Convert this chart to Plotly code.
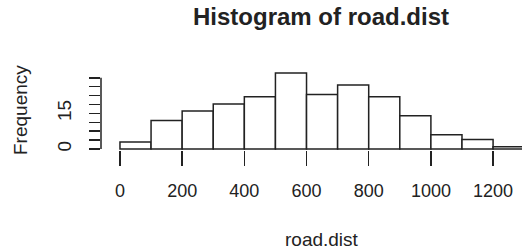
import plotly.graph_objects as go

# Histogram of road.dist — bins of width 100 from 0 to 1300
bin_left = [0, 100, 200, 300, 400, 500, 600, 700, 800, 900, 1000, 1100, 1200]
counts = [3, 12, 16, 19, 22, 32, 23, 27, 22, 14, 6, 4, 1]
bin_width = 100

x_tickvals = [0, 200, 400, 600, 800, 1000, 1200]
x_ticktext = ["0", "200", "400", "600", "800", "1000", "1200"]
y_tickvals = [0, 3.75, 7.5, 11.25, 15, 18.75, 22.5, 26.25, 30]
y_ticktext = ["0", "", "", "", "15", "", "", "", ""]

centers = [b + bin_width / 2 for b in bin_left]

FONT = "Liberation Sans, Arial, Helvetica, sans-serif"
INK = "#222222"

fig = go.Figure()
fig.add_trace(go.Bar(
    x=centers, y=counts, width=[bin_width] * len(counts),
    marker=dict(color="white", line=dict(color=INK, width=1.5)),
    hoverinfo="skip", showlegend=False,
))

fig.update_layout(
    width=522, height=250,
    margin=dict(l=101, r=0, t=60, b=100, autoexpand=False),
    paper_bgcolor="white", plot_bgcolor="white",
    font=dict(family=FONT, size=18, color=INK),
    title=dict(text="<b>Histogram of road.dist</b>", x=321 / 522, y=1 - 17 / 250,
               xanchor="center", yanchor="middle",
               font=dict(family=FONT, size=24, color=INK)),
    bargap=0,
    xaxis=dict(range=[-61, 1293], tickvals=x_tickvals, ticktext=x_ticktext,
               ticks="outside", ticklen=15, tickwidth=1.5, tickcolor=INK,
               showgrid=False, zeroline=False, showline=False,
               automargin=False, ticklabelstandoff=9),
    yaxis=dict(range=[-0.42, 37.5], tickvals=y_tickvals, ticktext=y_ticktext,
               ticks="outside", ticklen=11, tickwidth=1.5, tickcolor=INK,
               tickangle=-90, showgrid=False, zeroline=False, showline=False,
               automargin=False, ticklabelstandoff=10,
               tickfont=dict(size=19)),
    shapes=[dict(type="line", xref="paper", yref="y", x0=0, x1=0,
                 y0=y_tickvals[0], y1=y_tickvals[-1],
                 line=dict(color=INK, width=1.5))],
    annotations=[
        dict(text="road.dist", xref="paper", yref="paper", x=(322 - 101) / 421,
             y=(150 - 239) / 90, xanchor="center", yanchor="middle",
             showarrow=False, font=dict(family=FONT, size=19, color=INK)),
        dict(text="Frequency", xref="paper", yref="paper", x=(20 - 101) / 421,
             y=(150 - 110) / 90, xanchor="center", yanchor="middle",
             textangle=-90, showarrow=False,
             font=dict(family=FONT, size=19, color=INK)),
    ],
)

fig.write_html("out.html",
               config={"displayModeBar": False, "staticPlot": True},
               post_script="document.body.style.margin='0';document.body.style.overflow='hidden';")
